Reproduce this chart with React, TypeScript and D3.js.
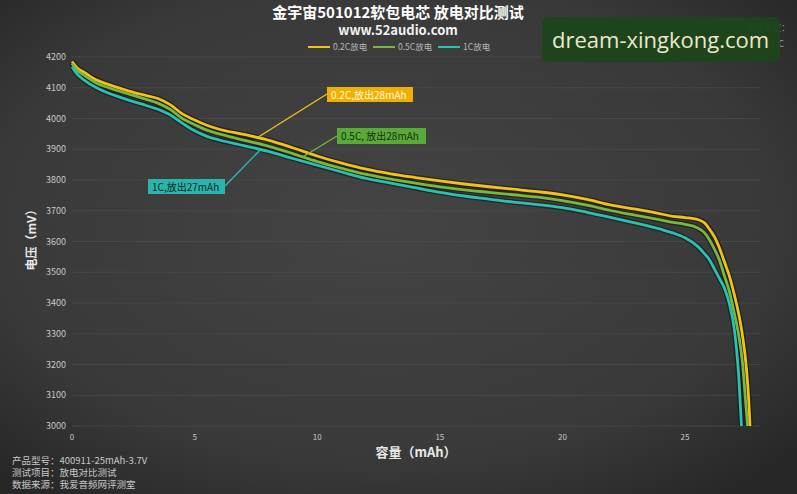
import React from 'react';
import * as d3 from 'd3';

// capacity (mAh) / voltage (mV)
const cap02 = [0, 0.2, 0.5, 1, 1.5, 2, 2.5, 3, 3.5, 4, 4.5, 5, 5.5, 6, 7, 8, 9, 10, 11, 12, 13, 14, 15, 16, 17, 18, 19, 20, 21, 22, 23, 24, 24.5, 25, 25.5, 25.8, 26, 26.2, 26.4, 26.6, 26.8, 27, 27.2, 27.35, 27.5, 27.6, 27.65];
const volt02 = [4185, 4165, 4150, 4125, 4110, 4097, 4085, 4075, 4065, 4045, 4015, 3995, 3978, 3965, 3948, 3930, 3905, 3878, 3855, 3835, 3820, 3808, 3797, 3787, 3778, 3770, 3762, 3752, 3737, 3718, 3705, 3690, 3682, 3678, 3672, 3660, 3640, 3615, 3580, 3535, 3490, 3430, 3360, 3290, 3190, 3080, 3000];

const cap05 = [0, 0.2, 0.5, 1, 1.5, 2, 2.5, 3, 3.5, 4, 4.5, 5, 5.5, 6, 7, 8, 9, 10, 11, 12, 13, 14, 15, 16, 17, 18, 19, 20, 21, 22, 23, 24, 24.5, 25, 25.5, 25.8, 26, 26.2, 26.4, 26.6, 26.8, 27, 27.2, 27.35, 27.45, 27.55];
const volt05 = [4178, 4158, 4140, 4115, 4100, 4087, 4075, 4063, 4050, 4030, 4000, 3980, 3962, 3950, 3930, 3910, 3886, 3860, 3838, 3818, 3803, 3790, 3778, 3768, 3760, 3752, 3744, 3733, 3718, 3700, 3685, 3670, 3662, 3656, 3645, 3628, 3605, 3575, 3540, 3490, 3440, 3370, 3290, 3200, 3100, 3000];

const cap1 = [0, 0.2, 0.5, 1, 1.5, 2, 2.5, 3, 3.5, 4, 4.5, 5, 5.5, 6, 7, 8, 9, 10, 11, 12, 13, 14, 15, 16, 17, 18, 19, 20, 21, 22, 23, 24, 24.5, 25, 25.5, 25.8, 26, 26.2, 26.4, 26.6, 26.8, 27, 27.1, 27.2, 27.3];
const volt1 = [4168, 4145, 4125, 4100, 4082, 4068, 4055, 4043, 4030, 4012, 3985, 3960, 3942, 3930, 3912, 3893, 3870, 3848, 3826, 3805, 3790, 3775, 3760, 3748, 3738, 3728, 3720, 3710, 3695, 3678, 3660, 3640, 3628, 3612, 3585, 3560, 3540, 3510, 3480, 3450, 3400, 3320, 3250, 3150, 3000];

const seriesNames = ['0.2C放电', '0.5C放电', '1C放电'];
const seriesColors = ['#f2c21b', '#78b83c', '#2cc0b3'];
const yTicks = [3000, 3100, 3200, 3300, 3400, 3500, 3600, 3700, 3800, 3900, 4000, 4100, 4200];
const xTicks = [0, 5, 10, 15, 20, 25];

const notes = ['产品型号：400911-25mAh-3.7V', '测试项目：放电对比测试', '数据来源：我爱音频网评测室'];

const W = 797;
const H = 494;
const font = '"Noto Sans CJK SC", "Noto Sans", sans-serif';

export default function App() {
  const x = d3.scaleLinear().domain([0, 28]).range([72, 758.6]);
  const y = d3.scaleLinear().domain([3000, 4200]).range([426, 57]);

  const line = d3
    .line<[number, number]>()
    .x(d => x(d[0]))
    .y(d => y(d[1]))
    .curve(d3.curveMonotoneX);

  const series = [
    cap02.map((c, i) => [c, volt02[i]] as [number, number]),
    cap05.map((c, i) => [c, volt05[i]] as [number, number]),
    cap1.map((c, i) => [c, volt1[i]] as [number, number]),
  ];

  // legend positions
  const legendX = [308, 373, 438];

  return (
    <svg
      width={W}
      height={H}
      style={{ position: 'absolute', left: 0, top: 0, fontFamily: font }}
    >
      <defs>
        <radialGradient id="bg" cx="48%" cy="45%" r="70%">
          <stop offset="0%" stopColor="#444444" />
          <stop offset="70%" stopColor="#393939" />
          <stop offset="100%" stopColor="#272727" />
        </radialGradient>
      </defs>
      <rect width={W} height={H} fill="url(#bg)" />

      {/* grid */}
      {yTicks.map(t => (
        <line key={t} x1={72} x2={760} y1={y(t)} y2={y(t)} stroke="#505050" strokeWidth={1} opacity={0.6} />
      ))}

      {/* y tick labels */}
      {yTicks.map(t => (
        <text key={t} x={66} y={y(t) + 3} textAnchor="end" fontSize={9} fill="#c8c8c8">
          {t}
        </text>
      ))}
      {/* x tick labels */}
      {xTicks.map(t => (
        <text key={t} x={x(t)} y={440} textAnchor="middle" fontSize={8} fill="#c8c8c8">
          {t}
        </text>
      ))}

      {/* curves: dark halo then colour */}
      {series.map((s, i) => (
        <path key={'h' + i} d={line(s) || ''} fill="none" stroke="#111" strokeWidth={5.5} opacity={0.55} />
      ))}
      {series.map((s, i) => (
        <path key={'l' + i} d={line(s) || ''} fill="none" stroke={seriesColors[i]} strokeWidth={2.8} />
      ))}

      {/* annotations */}
      <line x1={327} y1={94} x2={x(7.6)} y2={y(3940)} stroke={seriesColors[0]} strokeWidth={1.3} />
      <rect x={327} y={87} width={86} height={15} fill="#f0b000" />
      <text x={331} y={98.5} fontSize={10} fill="#fff8e0">0.2C,放出28mAh</text>

      <line x1={337} y1={136} x2={x(9.4)} y2={y(3875)} stroke={seriesColors[1]} strokeWidth={1.3} />
      <rect x={337} y={128} width={89} height={16} fill="#5aaa3a" />
      <text x={341} y={140} fontSize={10} fill="#163010">0.5C, 放出28mAh</text>

      <line x1={225} y1={186} x2={x(7.7)} y2={y(3900)} stroke={seriesColors[2]} strokeWidth={1.3} />
      <rect x={148} y={179} width={77} height={15} fill="#2bb4ab" />
      <text x={152} y={190.5} fontSize={10} fill="#0c2a28">1C,放出27mAh</text>

      {/* titles */}
      <text x={398} y={18} textAnchor="middle" fontSize={15} fontWeight="bold" fill="#ffffff">
        金宇宙501012软包电芯 放电对比测试
      </text>
      <text x={398} y={35} textAnchor="middle" fontSize={13} fontWeight="bold" fill="#f2f2f2">
        www.52audio.com
      </text>

      {/* legend */}
      {seriesNames.map((n, i) => (
        <g key={n}>
          <line x1={legendX[i]} x2={legendX[i] + 22} y1={47} y2={47} stroke={seriesColors[i]} strokeWidth={2} />
          <text x={legendX[i] + 25} y={50} fontSize={8.5} fill="#b8b8b8">
            {n}
          </text>
        </g>
      ))}

      {/* axis titles */}
      <text
        transform={`translate(36, ${237}) rotate(-90)`}
        textAnchor="middle"
        fontSize={12}
        fontWeight="bold"
        fill="#e8e8e8"
      >
        电压（mV）
      </text>
      <text x={416} y={457} textAnchor="middle" fontSize={13} fontWeight="bold" fill="#e8e8e8">
        容量（mAh）
      </text>

      {/* notes */}
      {notes.map((n, i) => (
        <text key={n} x={12} y={464 + i * 11.8} fontSize={9.5} fill="#c8c8c8">
          {n}
        </text>
      ))}

      {/* temperature text partly hidden under the watermark, as in the source */}
      <text x={745} y={31} fontSize={9} fill="#9a9a9a">测试温度：</text>
      <text x={765} y={47} fontSize={9} fill="#9a9a9a">25°C</text>

      {/* watermark */}
      <rect x={542} y={17} width={238} height={45} rx={6} fill="#1d451c" opacity={0.96} />
      <text x={552} y={48} fontSize={22} fill="#ece8cc" fontFamily='"Open Sans", "DejaVu Sans", sans-serif'>
        dream-xingkong.com
      </text>
    </svg>
  );
}
